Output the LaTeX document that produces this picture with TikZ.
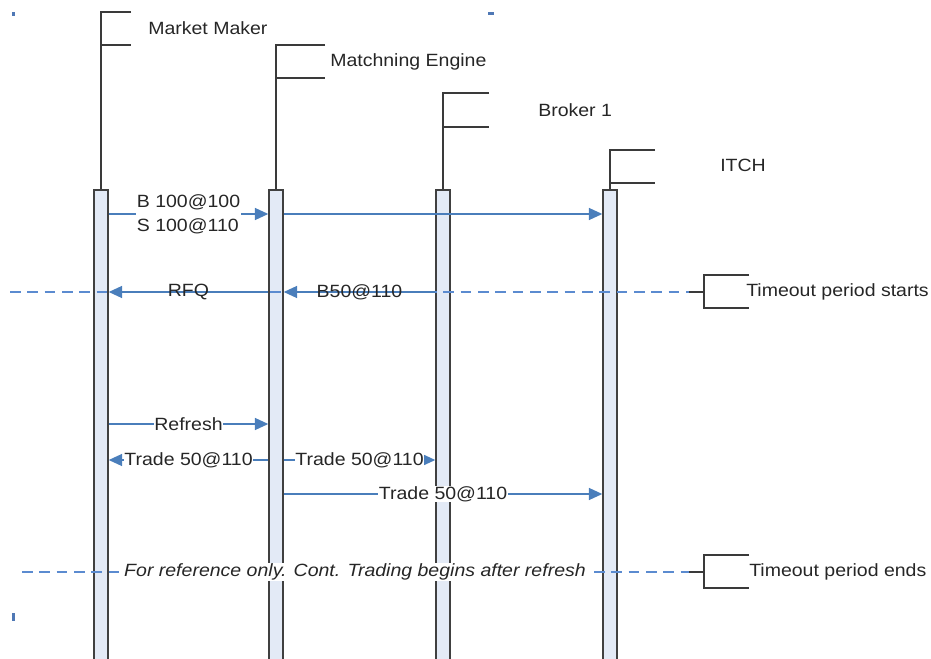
\documentclass[tikz,border=0pt]{standalone}
\usepackage{fontspec}
\setmainfont[FakeStretch=1.1]{Liberation Sans}
\usetikzlibrary{arrows.meta}
\definecolor{barfill}{HTML}{E3EAF6}
\definecolor{barline}{HTML}{404040}
\definecolor{msgblue}{HTML}{4A7EBB}
\definecolor{dashblue}{HTML}{5B8BD0}
\definecolor{markblue}{HTML}{4F78B5}
\definecolor{brk}{HTML}{3A3A3A}
\begin{document}
\begin{tikzpicture}[x=0.75pt,y=-0.75pt,
  font=\fontsize{13.3}{16}\selectfont,
  lifebar/.style={rectangle, draw=barline, fill=barfill, line width=1.1pt,
    minimum width=10.5pt, minimum height=356.25pt, inner sep=0pt},
  lifeline/.style={draw=brk, line width=1.1pt},
  bracketline/.style={draw=brk, line width=1.1pt},
  headlbl/.style={anchor=west, inner sep=3pt, text=black!85},
  msg/.style={draw=msgblue, line width=1pt, -{Triangle[length=10pt,width=9pt]}},
  msglbl/.style={fill=white, inner sep=0.6pt, text=black!85},
  msglblclear/.style={inner sep=1pt, text=black!85},
  dashline/.style={draw=dashblue, line width=1pt, dash pattern=on 8pt off 5pt},
  selmark/.style={fill=markblue}
]
\useasboundingbox (0,0) rectangle (931,659);

% selection marks
\fill[selmark] (12,12) rectangle (15,16);
\fill[selmark] (488,12) rectangle (494,15);
\fill[selmark] (12,613) rectangle (15,621);

% activation bars
\node[lifebar] (mmbar) at (101,427.5) {};
\node[lifebar] (mebar) at (276,427.5) {};
\node[lifebar] (brbar) at (443,427.5) {};
\node[lifebar] (itbar) at (610,427.5) {};

% heads
\coordinate (mmtop) at (101,12);
\draw[bracketline] (131,12) -- (mmtop) -- (101,45) -- (131,45);
\draw[lifeline] (101,45) -- (mmbar.north);
\node[headlbl] (mmlbl) at (144,28) {Market Maker};

\coordinate (metop) at (276,45);
\draw[bracketline] (325,45) -- (metop) -- (276,78) -- (325,78);
\draw[lifeline] (276,78) -- (mebar.north);
\node[headlbl] (melbl) at (326,62) {Matchning Engine};

\coordinate (brtop) at (443,93);
\draw[bracketline] (489,93) -- (brtop) -- (443,127) -- (489,127);
\draw[lifeline] (443,127) -- (brbar.north);
\node[headlbl] (brlbl) at (534,110) {Broker 1};

\coordinate (ittop) at (610,150);
\draw[bracketline] (655,150) -- (ittop) -- (610,183) -- (655,183);
\draw[lifeline] (610,183) -- (itbar.north);
\node[headlbl] (itlbl) at (716,165) {ITCH};

% timeout starts
\coordinate (ts0) at (10,292);
\coordinate (ts1) at (689,292);
\draw[dashline] (ts0) -- (ts1);
\draw[bracketline] (ts1) -- (704,292);
\draw[bracketline] (749,275) -- (704,275) -- (704,308) -- (749,308);
\node[headlbl] (tslbl) at (742,292) {Timeout period starts};

% timeout ends
\coordinate (te0) at (22,572);
\coordinate (te1) at (689,572);
\draw[dashline] (te0) -- (te1);
\draw[bracketline] (te1) -- (704,572);
\draw[bracketline] (749,555) -- (704,555) -- (704,588) -- (749,588);
\node[headlbl] (telbl) at (745,572) {Timeout period ends};
\node[msglbl, font=\fontsize{13.3}{16}\selectfont\itshape] (reflbl) at (355,572)
  {For reference only. Cont. Trading begins after refresh};

% messages
\draw[msg] (mmbar.east |- 0,214) -- node[msglbl, align=left, font=\fontsize{13.3}{18}\selectfont] (m1) {B 100@100\\S 100@110} (mebar.west |- 0,214);
\draw[msg] (mebar.east |- 0,214) -- (itbar.west |- 0,214);

\draw[msg] (mebar.west |- 0,292) -- node[msglblclear] (rfq) {RFQ} (mmbar.east |- 0,292);
\draw[msg] (brbar.west |- 0,292) -- node[msglblclear] (b50) {B50@110} (mebar.east |- 0,292);

\draw[msg] (mmbar.east |- 0,424) -- node[msglbl] (refr) {Refresh} (mebar.west |- 0,424);
\draw[msg] (mebar.west |- 0,460) -- node[msglbl] (t1) {Trade 50@110} (mmbar.east |- 0,460);
\draw[msg] (mebar.east |- 0,460) -- node[msglbl] (t2) {Trade 50@110} (brbar.west |- 0,460);
\draw[msg] (mebar.east |- 0,494) -- node[msglbl] (t3) {Trade 50@110} (itbar.west |- 0,494);

\end{tikzpicture}
\end{document}
